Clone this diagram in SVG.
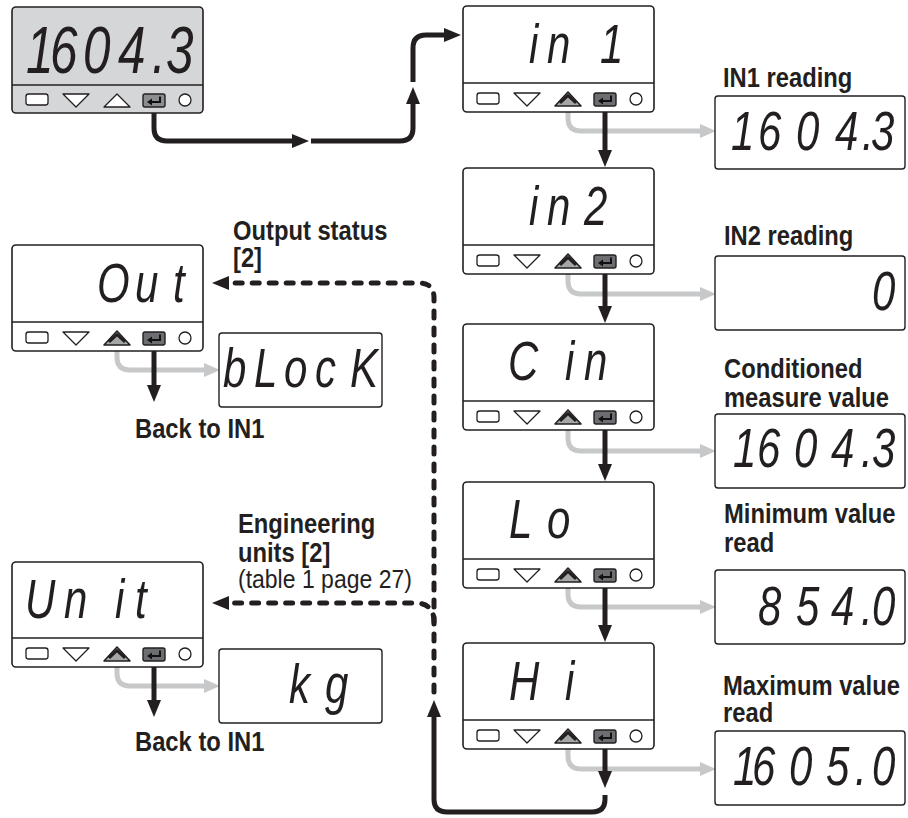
<svg xmlns="http://www.w3.org/2000/svg" width="908" height="818" viewBox="0 0 908 818">
<style>
.dev{fill:#fff;stroke:#231f20;stroke-width:1.6}
.devg{fill:#d5d6d8;stroke:#231f20;stroke-width:1.6}
.div{stroke:#231f20;stroke-width:1.4}
.disp{fill:#fff;stroke:#231f20;stroke-width:1.4}
.bt{fill:#fff;stroke:#231f20;stroke-width:1.3;stroke-linejoin:round}
.seg{font-family:"Liberation Sans",Arial,sans-serif;font-style:italic;font-size:56px;fill:#231f20}
.segL{font-size:66px}
.lbl{font-family:"Liberation Sans",Arial,sans-serif;font-weight:bold;font-size:27px;fill:#231f20}
.reg{font-family:"Liberation Sans",Arial,sans-serif;font-size:25px;fill:#231f20}
.blk{fill:none;stroke:#231f20;stroke-width:5}
.gry{fill:none;stroke:#c7c8ca;stroke-width:5}
.dash{fill:none;stroke:#231f20;stroke-width:5;stroke-dasharray:7 10;stroke-linecap:round}
.ah{fill:#231f20}
.ahg{fill:#c7c8ca}
</style>
<defs>
<g id="btnA">
<rect x="14" y="87" width="22" height="11" rx="2.5" class="bt"/>
<path d="M51,87 H77 L64,100 Z" class="bt"/>
<path d="M92,100 L105,86 L118,100 Z" fill="#a5a6a8" stroke="#231f20" stroke-width="1.6" stroke-linejoin="round"/>
<path d="M97,97 L105,89.5 L113,97" fill="none" stroke="#231f20" stroke-width="3" stroke-linejoin="round"/>
<rect x="131" y="87" width="22" height="13" rx="2" fill="#6d6e71" stroke="#231f20" stroke-width="1.4"/>
<path d="M148,89.5 V95 H139" fill="none" stroke="#111" stroke-width="2"/>
<path d="M135,95 L140,91.5 V98.5 Z" fill="#111"/>
<circle cx="173" cy="93" r="6" class="bt"/>
</g>
<g id="btnP">
<rect x="14" y="87" width="22" height="11" rx="2.5" class="bt"/>
<path d="M51,87 H77 L64,100 Z" class="bt"/>
<path d="M92,100 L118,100 L105,87 Z" class="bt"/>
<rect x="131" y="87" width="22" height="13" rx="2" fill="#8c8d90" stroke="#231f20" stroke-width="1.4"/>
<path d="M148,89.5 V95 H139" fill="none" stroke="#111" stroke-width="2"/>
<path d="M135,95 L140,91.5 V98.5 Z" fill="#111"/>
<circle cx="173" cy="93" r="6" class="bt"/>
</g>
</defs>
<rect width="908" height="818" fill="#fff"/>

<g id="connectors">
<path class="gry" d="M568,107 V118 Q568,131 581,131 H700"/><path class="ahg" d="M700,124 L716,131 L700,138 Z"/>
<path class="gry" d="M568,269 V281 Q568,294 581,294 H700"/><path class="ahg" d="M700,287 L716,294 L700,301 Z"/>
<path class="gry" d="M568,425 V438 Q568,451 581,451 H700"/><path class="ahg" d="M700,444 L716,451 L700,458 Z"/>
<path class="gry" d="M568,583 V594 Q568,607 581,607 H700"/><path class="ahg" d="M700,600 L716,607 L700,614 Z"/>
<path class="gry" d="M568,744 V756 Q568,769 581,769 H700"/><path class="ahg" d="M700,762 L716,769 L700,776 Z"/>
<path class="gry" d="M117,346 V357 Q117,370 130,370 H204"/><path class="ahg" d="M204,363 L220,370 L204,377 Z"/>
<path class="gry" d="M117,663 V673 Q117,686 130,686 H204"/><path class="ahg" d="M204,679 L220,686 L204,693 Z"/>
<path class="blk" d="M154,106 V128 Q154,141 167,141 H293"/><path class="ah" d="M292,134 L309,141 L292,148 Z"/>
<path class="blk" d="M311,141 H400 Q413,141 413,128 V103"/><path class="ah" d="M406,104 L413,87 L420,104 Z"/>
<path class="blk" d="M413,82 V48 Q413,35 426,35 H445"/><path class="ah" d="M444,28 L461,35 L444,42 Z"/>
<path class="blk" d="M605,106 V151"/><path class="ah" d="M598,150 L612,150 L605,167 Z"/>
<path class="blk" d="M605,268 V307"/><path class="ah" d="M598,306 L612,306 L605,323 Z"/>
<path class="blk" d="M605,424 V465"/><path class="ah" d="M598,464 L612,464 L605,481 Z"/>
<path class="blk" d="M605,582 V626"/><path class="ah" d="M598,625 L612,625 L605,642 Z"/>
<path class="blk" d="M605,743 V772"/><path class="ah" d="M598,771 L612,771 L605,788 Z"/>
<path class="blk" d="M154,345 V386"/><path class="ah" d="M147,385 L161,385 L154,402 Z"/>
<path class="blk" d="M154,662 V701"/><path class="ah" d="M147,700 L161,700 L154,717 Z"/>
<path class="blk" d="M605,795 V799 Q605,812 592,812 H447 Q434,812 434,799 V716"/><path class="ah" d="M427,717 L434,700 L441,717 Z"/>
<path class="dash" d="M434,692 V298 Q434,283 419,283 H232"/><path class="ah" d="M229,276 L212,283 L229,290 Z"/>
<path class="dash" d="M434,622 Q434,603 415,603 H232"/><path class="ah" d="M229,596 L212,603 L229,610 Z"/>
</g>

<g id="main-display">
<rect x="12" y="7" width="191" height="106" rx="4" class="devg"/>
<line x1="12" y1="85" x2="203" y2="85" class="div"/>
<use href="#btnP" x="12" y="7"/>
<text class="seg segL" transform="scale(0.75,1)" x="34.67 66.67 110.67 157.33 202.67 221.33" y="73">1604.3</text>
</g>

<g id="in1">
<rect x="463" y="6" width="191" height="106" rx="4" class="dev"/>
<line x1="463" y1="83" x2="654" y2="83" class="div"/>
<use href="#btnA" x="463" y="6"/>
<text class="seg" transform="scale(0.75,1)" x="705.33 729.33 800" y="63">in1</text>
</g>
<g id="in1-reading">
<text class="lbl" transform="translate(723,87) scale(0.88,1)">IN1 reading</text>
<rect x="715" y="96" width="190" height="73" rx="3" class="disp"/>
<text class="seg" transform="scale(0.75,1)" x="974.67 1010.67 1061.33 1113.33 1149.33 1161.33" y="150">1604.3</text>
</g>

<g id="in2">
<rect x="463" y="168" width="191" height="106" rx="4" class="dev"/>
<line x1="463" y1="245" x2="654" y2="245" class="div"/>
<use href="#btnA" x="463" y="168"/>
<text class="seg" transform="scale(0.75,1)" x="705.33 729.33 778.67" y="225">in2</text>
</g>
<g id="in2-reading">
<text class="lbl" transform="translate(724,245) scale(0.88,1)">IN2 reading</text>
<rect x="715" y="256" width="190" height="74" rx="3" class="disp"/>
<text class="seg" transform="scale(0.75,1)" x="1162.67" y="310">0</text>
</g>

<g id="cin">
<rect x="463" y="324" width="191" height="106" rx="4" class="dev"/>
<line x1="463" y1="401" x2="654" y2="401" class="div"/>
<use href="#btnA" x="463" y="324"/>
<text class="seg" transform="scale(0.75,1)" x="677.33 753.33 778.67" y="380">Cin</text>
</g>
<g id="conditioned">
<text class="lbl" transform="translate(724,378) scale(0.88,1)">Conditioned</text>
<text class="lbl" transform="translate(724,407) scale(0.88,1)">measure value</text>
<rect x="715" y="414" width="190" height="74" rx="3" class="disp"/>
<text class="seg" transform="scale(0.75,1)" x="977.33 1009.33 1058.67 1108 1148 1162.67" y="467">1604.3</text>
</g>

<g id="lo">
<rect x="463" y="482" width="191" height="106" rx="4" class="dev"/>
<line x1="463" y1="559" x2="654" y2="559" class="div"/>
<use href="#btnA" x="463" y="482"/>
<text class="seg" transform="scale(0.75,1)" x="678.67 729.33" y="538">Lo</text>
</g>
<g id="minimum">
<text class="lbl" transform="translate(724,523) scale(0.88,1)">Minimum value</text>
<text class="lbl" transform="translate(724,552) scale(0.88,1)">read</text>
<rect x="715" y="570" width="190" height="74" rx="3" class="disp"/>
<text class="seg" transform="scale(0.75,1)" x="1010.67 1061.33 1108 1148 1162.67" y="625">854.0</text>
</g>

<g id="hi">
<rect x="463" y="643" width="191" height="106" rx="4" class="dev"/>
<line x1="463" y1="720" x2="654" y2="720" class="div"/>
<use href="#btnA" x="463" y="643"/>
<text class="seg" transform="scale(0.75,1)" x="678.67 753.33" y="700">Hi</text>
</g>
<g id="maximum">
<text class="lbl" transform="translate(723,695) scale(0.88,1)">Maximum value</text>
<text class="lbl" transform="translate(723,722) scale(0.88,1)">read</text>
<rect x="715" y="731" width="190" height="74" rx="3" class="disp"/>
<text class="seg" transform="scale(0.75,1)" x="977.33 1002.67 1052 1101.33 1140 1162.67" y="785">1605.0</text>
</g>

<g id="out">
<text class="lbl" transform="translate(233,240) scale(0.88,1)">Output status</text>
<text class="lbl" transform="translate(233,267) scale(0.88,1)">[2]</text>
<rect x="12" y="245" width="191" height="106" rx="4" class="dev"/>
<line x1="12" y1="322" x2="203" y2="322" class="div"/>
<use href="#btnA" x="12" y="245"/>
<text class="seg" transform="scale(0.75,1)" x="129.33 180 230.67" y="302">Out</text>
</g>
<g id="block">
<rect x="219" y="333" width="163" height="74" rx="3" class="disp"/>
<text class="seg" transform="scale(0.75,1)" x="297.33 338.67 378.67 420 466.67" y="387">bLocK</text>
<text class="lbl" transform="translate(135,438) scale(0.88,1)">Back to IN1</text>
</g>

<g id="unit">
<text class="lbl" transform="translate(238,533) scale(0.88,1)">Engineering</text>
<text class="lbl" transform="translate(238,562) scale(0.88,1)">units [2]</text>
<text class="reg" transform="translate(238,588) scale(0.92,1)">(table 1 page 27)</text>
<rect x="12" y="562" width="191" height="105" rx="4" class="dev"/>
<line x1="12" y1="638" x2="203" y2="638" class="div"/>
<use href="#btnA" x="12" y="561"/>
<text class="seg" transform="scale(0.75,1)" x="33.33 85.33 153.33 180" y="618">Unit</text>
</g>
<g id="kg">
<rect x="219" y="649" width="163" height="74" rx="3" class="disp"/>
<text class="seg" transform="scale(0.75,1)" x="385.33 433.33" y="703">kg</text>
<text class="lbl" transform="translate(135,751) scale(0.88,1)">Back to IN1</text>
</g>
</svg>
